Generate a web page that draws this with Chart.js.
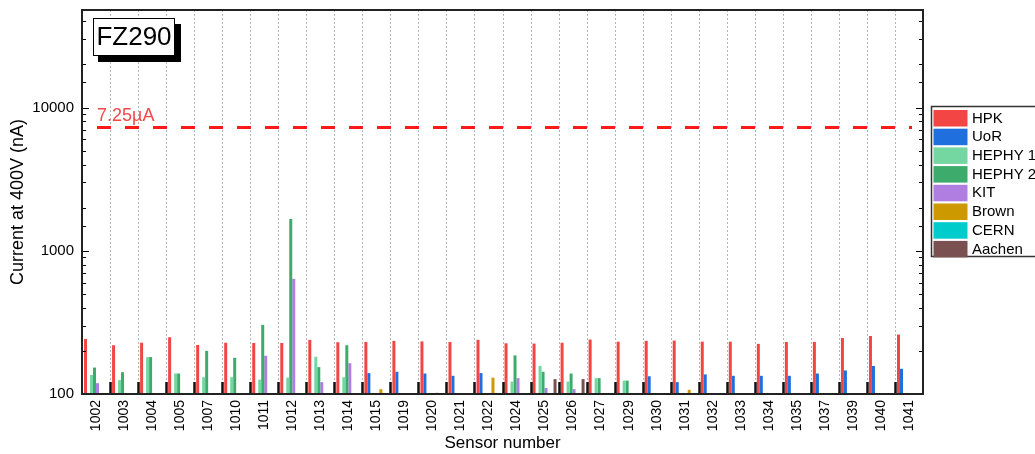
<!DOCTYPE html>
<html>
<head>
<meta charset="utf-8">
<script src="https://cdn.jsdelivr.net/npm/chart.js@4.4.1/dist/chart.umd.min.js"></script>
<style>
  body { margin: 0; background: #fff; }
  #wrap { width: 1035px; height: 454px; }
</style>
</head>
<body>
<div id="wrap"><canvas id="myChart"></canvas></div>
<script>
// sensor numbers on the x axis
var sensors = ['1002', '1003', '1004', '1005', '1007', '1010', '1011', '1012', '1013', '1014',
    '1015', '1019', '1020', '1021', '1022', '1024', '1025', '1026', '1027', '1029',
    '1030', '1031', '1032', '1033', '1034', '1035', '1037', '1039', '1040', '1041']

// current at 400V (nA), one value per sensor, null = not measured
var hpk = [242, 219, 228, 249, 220, 228, 227, 227, 239, 230,
    231, 235, 233, 231, 239, 226, 225, 228, 240, 232,
    235, 236, 232, 232, 224, 231, 231, 246, 254, 260]
var uor = [null, null, null, null, null, null, null, null, null, null,
    140, 143, 139, 134, 140, null, null, null, null, null,
    133, 121, 137, 134, 134, 134, 139, 146, 157, 150]
var hephy1 = [136, 125, 181, 139, 131, 131, 126, 130, 182, 131,
    null, null, null, null, null, 122, 157, 122, 129, 124,
    null, null, null, null, null, null, null, null, null, null]
var hephy2 = [153, 142, 181, 139, 200, 179, 304, 1666, 154, 219,
    null, null, null, null, null, 186, 143, 139, 129, 124,
    null, null, null, null, null, null, null, null, null, null]
var kit = [119, null, null, null, null, null, 185, 637, 121, 164,
    null, null, null, null, null, 129, 110, 108, null, null,
    null, null, null, null, null, null, null, null, null, null]
var brown = [null, null, null, null, null, null, null, null, null, null,
    108, null, 102, null, 130, null, null, null, null, null,
    null, 107, null, null, null, null, null, null, null, null]
var cern = [null, null, null, null, null, null, null, null, null, null,
    null, null, null, null, null, null, null, null, null, null,
    null, null, null, null, null, null, null, null, null, null]
var aachen = [null, null, null, null, null, null, null, null, null, null,
    null, null, null, null, null, null, 127, 127, null, null,
    null, null, null, null, null, null, null, null, null, null]

var yTickLabels = [100, 1000, 10000]
var limitValue = 7250
var limitText = '7.25µA'
var boxTitle = 'FZ290'

var names = ['HPK', 'UoR', 'HEPHY 1', 'HEPHY 2', 'KIT', 'Brown', 'CERN', 'Aachen']
var series = [hpk, uor, hephy1, hephy2, kit, brown, cern, aachen]
var colors = ['#f44545', '#1f6fdf', '#74d6a0', '#3cab6b', '#b07ee0', '#cc9900', '#00cccc', '#7b5050']

Chart.defaults.font.family = "'Liberation Sans', Arial, sans-serif"
Chart.defaults.color = '#000'

var datasets = []
for (let i = 0; i < names.length; i++) {
    datasets.push({
        label: names[i],
        data: series[i],
        backgroundColor: colors[i],
        borderWidth: 0,
        categoryPercentage: 0.855,
        barPercentage: 1.0
    })
}

// dotted grid lines between sensors, drawn under the bars
var gridLines = {
    id: 'gridLines',
    beforeDatasetsDraw(chart) {
        var ctx = chart.ctx
        var a = chart.chartArea
        var x = chart.scales.x
        var step = x.getPixelForValue(1) - x.getPixelForValue(0)
        ctx.save()
        ctx.strokeStyle = '#b4b4b4'
        ctx.lineWidth = 1
        ctx.setLineDash([2, 2])
        for (let i = 1; i < sensors.length; i++) {
            var gx = Math.round(x.getPixelForValue(i) - step / 2) + 0.5
            ctx.beginPath()
            ctx.moveTo(gx, a.top)
            ctx.lineTo(gx, a.bottom)
            ctx.stroke()
        }
        ctx.restore()
    }
}

// frame, inward ticks, limit line, title box and legend
var extras = {
    id: 'extras',
    afterDatasetsDraw(chart) {
        var ctx = chart.ctx
        var a = chart.chartArea
        var x = chart.scales.x
        var y = chart.scales.y
        ctx.save()

        // black marks at category boundaries
        var step = x.getPixelForValue(1) - x.getPixelForValue(0)
        ctx.fillStyle = '#111'
        for (let i = 1; i < sensors.length; i++) {
            var bx = Math.round(x.getPixelForValue(i) - step / 2)
            ctx.fillRect(bx - 0.75, a.bottom - 12, 2.5, 12)
        }

        // y ticks inward, left and right
        ctx.strokeStyle = '#000'
        ctx.lineWidth = 1.2
        y.ticks.forEach(function (t) {
            if (t.value <= y.min || t.value >= y.max) return
            var py = Math.round(y.getPixelForValue(t.value)) + 0.5
            var major = yTickLabels.indexOf(t.value) >= 0
            var len = major ? 7 : 4
            ctx.beginPath()
            ctx.moveTo(a.left, py)
            ctx.lineTo(a.left + len, py)
            ctx.moveTo(a.right, py)
            ctx.lineTo(a.right - len, py)
            ctx.stroke()
        })

        // frame
        ctx.lineWidth = 2
        ctx.strokeStyle = '#222'
        ctx.strokeRect(a.left, a.top, a.right - a.left, a.bottom - a.top)

        // limit line
        var ly = y.getPixelForValue(limitValue)
        ctx.strokeStyle = '#ff1a1a'
        ctx.lineWidth = 3
        ctx.setLineDash([14, 14])
        ctx.beginPath()
        ctx.moveTo(a.left + 15, ly)
        ctx.lineTo(a.right - 11, ly)
        ctx.stroke()
        ctx.setLineDash([])
        ctx.fillStyle = '#f04848'
        ctx.font = "18px 'Liberation Sans', Arial"
        ctx.textAlign = 'left'
        ctx.textBaseline = 'alphabetic'
        ctx.fillText(limitText, a.left + 15, ly - 7)

        // title box with shadow
        ctx.fillStyle = '#000'
        ctx.fillRect(98, 24, 83, 38)
        ctx.fillStyle = '#fff'
        ctx.fillRect(93, 18.5, 81.5, 37)
        ctx.lineWidth = 1
        ctx.strokeStyle = '#000'
        ctx.strokeRect(93.5, 18.5, 81, 37)
        ctx.fillStyle = '#000'
        ctx.font = "26px 'Liberation Sans', Arial"
        ctx.textAlign = 'center'
        ctx.textBaseline = 'middle'
        ctx.fillText(boxTitle, 134, 38)

        // legend
        ctx.lineWidth = 1.5
        ctx.strokeStyle = '#333'
        ctx.strokeRect(931.5, 106.5, 110, 150)
        ctx.font = "15px 'Liberation Sans', Arial"
        ctx.textAlign = 'left'
        chart.data.datasets.forEach(function (ds, i) {
            var sy = 110 + i * 18.7
            ctx.fillStyle = ds.backgroundColor
            ctx.fillRect(933.5, sy, 34, 16.5)
            ctx.fillStyle = '#000'
            ctx.fillText(ds.label, 972, sy + 8.5)
        })

        ctx.restore()
    }
}

var ctx = document.getElementById('myChart').getContext('2d')
var myChart = new Chart(ctx, {
    type: 'bar',
    data: {
        labels: sensors,
        datasets: datasets
    },
    options: {
        responsive: true,
        maintainAspectRatio: false,
        animation: false,
        layout: {
            padding: { top: 10, right: 112, left: 0, bottom: 0 }
        },
        plugins: {
            legend: { display: false },
            tooltip: { enabled: false }
        },
        scales: {
            x: {
                afterFit: function (scale) {
                    scale.height = 60
                    scale.paddingLeft = 0
                    scale.paddingRight = 0
                },
                grid: { display: false, drawTicks: false },
                border: { display: false },
                ticks: {
                    autoSkip: false,
                    maxRotation: 90,
                    minRotation: 90,
                    padding: 6,
                    font: { size: 14 }
                },
                title: {
                    display: true,
                    text: 'Sensor number',
                    font: { size: 17 },
                    padding: { top: 0, bottom: 0 }
                }
            },
            y: {
                type: 'logarithmic',
                min: 100,
                max: 48000,
                afterFit: function (scale) {
                    scale.width = 82
                    scale.paddingTop = 0
                    scale.paddingBottom = 0
                },
                grid: { display: false, drawTicks: false },
                border: { display: false },
                ticks: {
                    autoSkip: false,
                    padding: 8,
                    font: { size: 15 },
                    callback: function (v) {
                        return yTickLabels.indexOf(v) >= 0 ? String(v) : ''
                    }
                },
                title: {
                    display: true,
                    text: 'Current at 400V (nA)',
                    font: { size: 18 },
                    padding: { top: 7, bottom: 0 }
                }
            }
        }
    },
    plugins: [gridLines, extras]
})
</script>
</body>
</html>
